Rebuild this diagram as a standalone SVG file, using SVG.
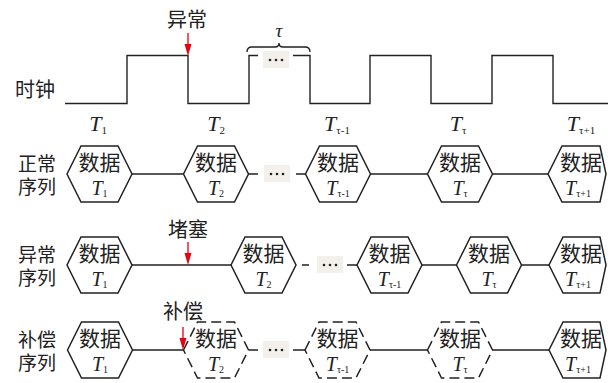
<svg xmlns="http://www.w3.org/2000/svg" width="608" height="383" viewBox="0 0 608 383">
<style>
.cjk{font-family:"Noto Sans CJK SC","Noto Sans",sans-serif;fill:#222;}
.lbl{font-size:20px;}
.rl{font-size:19px;}
.dat{font-size:21px;text-anchor:middle;}
.tt{font-family:"Liberation Serif","Times New Roman",serif;fill:#222;text-anchor:middle;}
.ti{font-style:italic;}
.hex{fill:#fff;stroke:#222;stroke-width:1.5;}
.dash{stroke-dasharray:10 5;}
.ln{stroke:#222;stroke-width:1.4;fill:none;}
.box{fill:#f3efeb;}
.dot{fill:#222;}
.red{stroke:#e60012;stroke-width:1.3;}
.redh{fill:#e60012;}
</style>
<defs>
<polygon id="hx" points="-32.5,0 -18.5,-28 18.5,-28 32.5,0 18.5,28 -18.5,28"/>
<g id="ell"><rect x="0" y="-9" width="26" height="17" class="box"/><circle cx="7" cy="0" r="1.3" class="dot"/><circle cx="13" cy="0" r="1.3" class="dot"/><circle cx="19" cy="0" r="1.3" class="dot"/></g>
</defs>
<rect width="608" height="383" fill="#fff"/>

<!-- clock -->
<g id="clock">
<text x="15" y="97" class="cjk lbl">时钟</text>
<path class="ln" d="M65,103.5 H127 V55.5 H188 V103.5 H249 V55.5 H258 M293,55.5 H310 V103.5 H370 V55.5 H431 V103.5 H492 V55.5 H553 V103.5 H608"/>
<use href="#ell" x="263" y="60"/>
<path class="ln" stroke-width="1.2" d="M247,52 Q247,47 252,47 H275 Q279,47 279,43 Q279,47 283,47 H305 Q310,47 310,52"/>
<text x="279" y="37" class="tt ti" font-size="19">τ</text>
<text x="98" y="131" class="tt" font-size="22"><tspan class="ti">T</tspan><tspan font-size="11" dy="3">1</tspan></text>
<text x="216" y="131" class="tt" font-size="22"><tspan class="ti">T</tspan><tspan font-size="11" dy="3">2</tspan></text>
<text x="337" y="131" class="tt" font-size="22"><tspan class="ti">T</tspan><tspan font-size="11" dy="3">τ-1</tspan></text>
<text x="458" y="131" class="tt" font-size="22"><tspan class="ti">T</tspan><tspan font-size="11" dy="3">τ</tspan></text>
<text x="581" y="131" class="tt" font-size="22"><tspan class="ti">T</tspan><tspan font-size="11" dy="3">τ+1</tspan></text>
</g>

<!-- anomaly marker -->
<g id="mark-anomaly">
<text x="167" y="27" class="cjk lbl">异常</text>
<line x1="188" y1="33" x2="188" y2="45" class="red"/>
<polygon points="184.5,44 191.5,44 188,56" class="redh"/>
</g>

<!-- row labels -->
<g id="label-normal"><text class="cjk rl"><tspan x="18" y="171">正常</tspan><tspan x="18" y="194">序列</tspan></text></g>
<g id="label-abnormal"><text class="cjk rl"><tspan x="18" y="262">异常</tspan><tspan x="18" y="285">序列</tspan></text></g>
<g id="label-comp"><text class="cjk rl"><tspan x="18" y="347">补偿</tspan><tspan x="18" y="370">序列</tspan></text></g>

<!-- connectors -->
<g id="connectors" class="ln">
<path d="M132,174 H184 M248,174 H258 M296,174 H306 M370,174 H428 M492,174 H548"/>
<path d="M132,265 H231 M302,265 H309 M347,265 H357 M422,265 H457 M521,265 H549"/>
<path d="M132,350 H184 M249,350 H258 M293,350 H305 M370,350 H428 M492,350 H549"/>
</g>
<use href="#ell" x="264" y="174"/>
<use href="#ell" x="317" y="265"/>
<use href="#ell" x="263" y="350"/>

<!-- row 1 -->
<g id="n1-1"><use href="#hx" x="99.5" y="174" class="hex"/><text x="99.5" y="170" class="cjk dat">数据</text><text x="99.5" y="195" class="tt" font-size="20"><tspan class="ti">T</tspan><tspan font-size="10" dy="2">1</tspan></text></g>
<g id="n1-2"><use href="#hx" x="216" y="174" class="hex"/><text x="216" y="170" class="cjk dat">数据</text><text x="216" y="195" class="tt" font-size="20"><tspan class="ti">T</tspan><tspan font-size="10" dy="2">2</tspan></text></g>
<g id="n1-3"><use href="#hx" x="338" y="174" class="hex"/><text x="338" y="170" class="cjk dat">数据</text><text x="338" y="195" class="tt" font-size="20"><tspan class="ti">T</tspan><tspan font-size="10" dy="2">τ-1</tspan></text></g>
<g id="n1-4"><use href="#hx" x="460" y="174" class="hex"/><text x="460" y="170" class="cjk dat">数据</text><text x="460" y="195" class="tt" font-size="20"><tspan class="ti">T</tspan><tspan font-size="10" dy="2">τ</tspan></text></g>
<g id="n1-5"><polygon points="548,174 562,146 600,146 606,174 600,202 562,202" class="hex"/><text x="581" y="170" class="cjk dat">数据</text><text x="578" y="195" class="tt" font-size="20"><tspan class="ti">T</tspan><tspan font-size="10" dy="2">τ+1</tspan></text></g>

<!-- row 2 -->
<g id="mark-block">
<text x="168" y="237" class="cjk lbl">堵塞</text>
<line x1="188" y1="242" x2="188" y2="254" class="red"/>
<polygon points="184.5,253 191.5,253 188,265" class="redh"/>
</g>
<g id="n2-1"><use href="#hx" x="99.5" y="265" class="hex"/><text x="99.5" y="261" class="cjk dat">数据</text><text x="99.5" y="286" class="tt" font-size="20"><tspan class="ti">T</tspan><tspan font-size="10" dy="2">1</tspan></text></g>
<g id="n2-2"><use href="#hx" x="263.5" y="265" class="hex"/><text x="263.5" y="261" class="cjk dat">数据</text><text x="263.5" y="286" class="tt" font-size="20"><tspan class="ti">T</tspan><tspan font-size="10" dy="2">2</tspan></text></g>
<g id="n2-3"><use href="#hx" x="389.5" y="265" class="hex"/><text x="389.5" y="261" class="cjk dat">数据</text><text x="389.5" y="286" class="tt" font-size="20"><tspan class="ti">T</tspan><tspan font-size="10" dy="2">τ-1</tspan></text></g>
<g id="n2-4"><use href="#hx" x="489" y="265" class="hex"/><text x="489" y="261" class="cjk dat">数据</text><text x="489" y="286" class="tt" font-size="20"><tspan class="ti">T</tspan><tspan font-size="10" dy="2">τ</tspan></text></g>
<g id="n2-5"><polygon points="549,265 563,237 600,237 606,265 600,293 563,293" class="hex"/><text x="581" y="261" class="cjk dat">数据</text><text x="578" y="286" class="tt" font-size="20"><tspan class="ti">T</tspan><tspan font-size="10" dy="2">τ+1</tspan></text></g>

<!-- row 3 -->
<g id="n3-1"><use href="#hx" x="100" y="350" class="hex"/><text x="100" y="346" class="cjk dat">数据</text><text x="100" y="371" class="tt" font-size="20"><tspan class="ti">T</tspan><tspan font-size="10" dy="2">1</tspan></text></g>
<g id="n3-2"><use href="#hx" x="216" y="350" class="hex dash"/><text x="216" y="346" class="cjk dat">数据</text><text x="216" y="371" class="tt" font-size="20"><tspan class="ti">T</tspan><tspan font-size="10" dy="2">2</tspan></text></g>
<g id="n3-3"><use href="#hx" x="337.5" y="350" class="hex dash"/><text x="337.5" y="346" class="cjk dat">数据</text><text x="337.5" y="371" class="tt" font-size="20"><tspan class="ti">T</tspan><tspan font-size="10" dy="2">τ-1</tspan></text></g>
<g id="n3-4"><use href="#hx" x="460" y="350" class="hex dash"/><text x="460" y="346" class="cjk dat">数据</text><text x="460" y="371" class="tt" font-size="20"><tspan class="ti">T</tspan><tspan font-size="10" dy="2">τ</tspan></text></g>
<g id="n3-5"><polygon points="549,350 563,322 600,322 606,350 600,378 563,378" class="hex"/><text x="581" y="346" class="cjk dat">数据</text><text x="578" y="371" class="tt" font-size="20"><tspan class="ti">T</tspan><tspan font-size="10" dy="2">τ+1</tspan></text></g>
<g id="mark-comp">
<text x="163" y="319" class="cjk lbl">补偿</text>
<line x1="183" y1="327" x2="183" y2="339" class="red"/>
<polygon points="179.5,338 186.5,338 183,350" class="redh"/>
</g>
</svg>
